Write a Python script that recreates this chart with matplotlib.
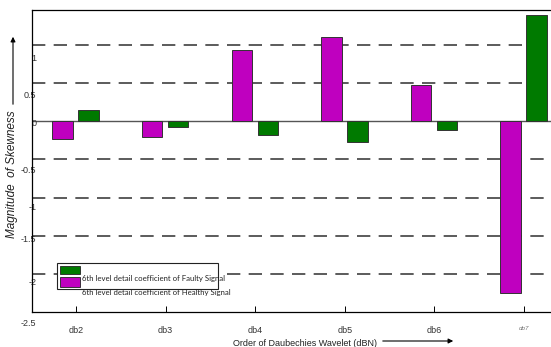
import numpy as np
import matplotlib
matplotlib.use('Agg')
import matplotlib.pyplot as plt
from matplotlib.patches import Rectangle
from matplotlib.transforms import ScaledTranslation

# data
wavelets = ['db2', 'db3', 'db4', 'db5', 'db6', 'db7']
healthy = [-0.23, -0.20, 0.94, 1.10, 0.47, -2.25]
faulty = [0.15, -0.07, -0.18, -0.27, -0.12, 1.39]
grid_vals = [1, 0.5, -0.5, -1, -1.5, -2]
ytick_vals = [-2.5, -2, -1.5, -1, -0.5, 0, 0.5, 1]
ytick_text = ['-2.5', '-2', '-1.5', '-1', '-0.5', '0', '0.5', '1']
label_shift = [11, 8, 3, 9, 10, 1, 11, 12]   # px, labels sit below their gridlines

W, H = 551, 347
magenta = '#BF00BF'
green = '#007A00'

plt.rcParams['font.family'] = ['Liberation Sans', 'DejaVu Sans']

fig = plt.figure(figsize=(W / 100, H / 100), dpi=100)
ax = fig.add_axes([32 / W, 35 / H, 1 - 32 / W, 302 / H])

x = np.arange(len(wavelets))
for g in grid_vals:
    ax.axhline(g, color='#404040', lw=1.2, linestyle=(0, (8, 5)), zorder=1)
ax.axhline(0, color='#555555', lw=1.0, zorder=1)

ax.bar(x - 0.15, healthy, width=0.228, color=magenta, edgecolor='#333333', lw=0.7, zorder=3)
ax.bar(x + 0.14, faulty, width=0.228, color=green, edgecolor='#333333', lw=0.7, zorder=3)

ax.set_xlim(-0.49, 5.30)
ax.set_ylim(-2.5, 1.46)

ax.set_xticks(x)
ax.set_xticklabels(wavelets, fontsize=6.5, color='#333333')
ax.get_xticklabels()[-1].set_fontsize(4.5)
ax.get_xticklabels()[-1].set_style('italic')
ax.get_xticklabels()[-1].set_color('#777777')
ax.tick_params(axis='x', direction='in', length=4, width=0.7, pad=10)

ax.set_yticks(ytick_vals)
ax.set_yticklabels(ytick_text, fontsize=6.5, color='#333333')
ax.tick_params(axis='y', length=0, pad=-3)
for lab, s in zip(ax.get_yticklabels(), label_shift):
    lab.set_transform(lab.get_transform() + ScaledTranslation(0, -s / 100, fig.dpi_scale_trans))

ax.spines['right'].set_visible(False)
for side in ['left', 'bottom', 'top']:
    ax.spines[side].set_linewidth(0.9)

# axis titles with arrows
fig.text(305 / W, 1 - 343 / H, 'Order of Daubechies Wavelet (dBN)', fontsize=6.5,
         ha='center', va='center', color='#222222')
ax.annotate('', xy=(456 / W, 1 - 341 / H), xytext=(380 / W, 1 - 341 / H),
            xycoords='figure fraction', textcoords='figure fraction',
            arrowprops=dict(arrowstyle='-|>', color='black', lw=0.8, mutation_scale=7))
fig.text(12 / W, 1 - 174 / H, 'Magnitude  of Skewness', fontsize=8.5, style='italic',
         rotation=90, ha='center', va='center', color='#222222')
ax.annotate('', xy=(13 / W, 1 - 34 / H), xytext=(13 / W, 1 - 107 / H),
            xycoords='figure fraction', textcoords='figure fraction',
            arrowprops=dict(arrowstyle='-|>', color='black', lw=0.8, mutation_scale=7))

# legend box
def px_rect(x0, y0, x1, y1, **kw):
    fig.add_artist(Rectangle((x0 / W, 1 - y1 / H), (x1 - x0) / W, (y1 - y0) / H,
                             transform=fig.transFigure, **kw))

px_rect(57, 263, 218, 289, facecolor='white', edgecolor='#222222', lw=0.8, zorder=5)
px_rect(60, 266, 80, 274, facecolor=green, edgecolor='#222222', lw=0.6, zorder=6)
px_rect(60, 277, 80, 287, facecolor=magenta, edgecolor='#222222', lw=0.6, zorder=6)
fig.text(82 / W, 1 - 279 / H, '6th level detail coefficient of Faulty Signal', fontsize=5.6,
         family=['Lato', 'DejaVu Sans'], va='center', color='#222222', zorder=7)
fig.text(82 / W, 1 - 293 / H, '6th level detail coefficient of Healthy Signal', fontsize=5.6,
         family=['Lato', 'DejaVu Sans'], va='center', color='#222222', zorder=7)

fig.savefig('out.png', dpi=100)
